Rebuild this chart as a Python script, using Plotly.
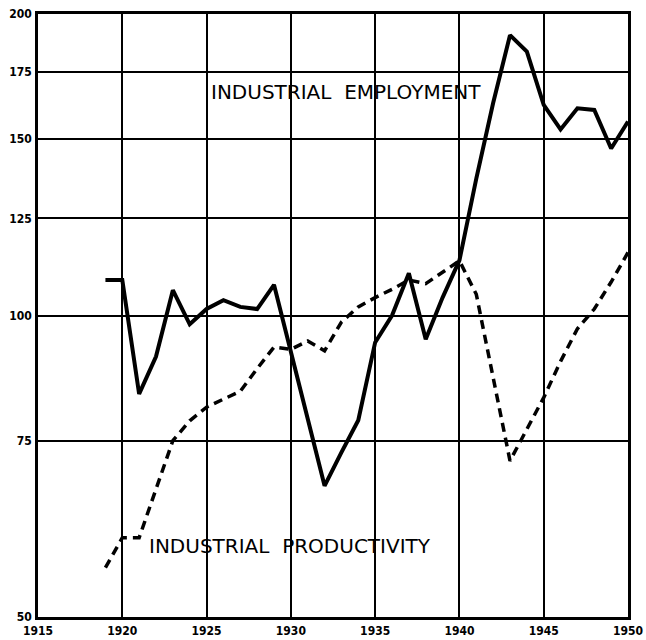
import math
import plotly.graph_objects as go

years = list(range(1919, 1951))

employment = [108.5, 108.5, 83.5, 91, 106, 98, 101.5, 103.6, 102, 101.5,
              107.3, 92, 79, 67.6, 73, 78.6, 94, 100, 110.2, 94.7,
              104.2, 113.5, 137, 163, 190.5, 183.4, 162.3, 153.4, 161, 160.4,
              146.8, 156.2]

productivity = [56, 60, 60, 67, 75, 78.5, 81, 82.5, 84, 88.5,
                93, 92.5, 94.3, 92.2, 98.5, 102, 104.2, 106.2, 108.5, 107.6,
                110.5, 113.4, 105, 87, 71.6, 77, 82.8, 90, 97, 101.5,
                108, 115.6]

x_ticks = [1915, 1920, 1925, 1930, 1935, 1940, 1945, 1950]
x_labels = ["1915", "1920", "1925", "1930", "1935", "1940", "1945", "1950"]
y_ticks = [50, 75, 100, 125, 150, 175, 200]
y_labels = ["50", "75", "100", "125", "150", "175", "200"]

label_emp = "INDUSTRIAL  EMPLOYMENT"
label_prod = "INDUSTRIAL  PRODUCTIVITY"

fig = go.Figure()
fig.add_trace(go.Scatter(x=years, y=employment, mode="lines",
                         line=dict(color="black", width=4), showlegend=False))
fig.add_trace(go.Scatter(x=years, y=productivity, mode="lines",
                         line=dict(color="black", width=3.5, dash="9px,6px"),
                         showlegend=False))

# annotation y on a log axis is given in log10 units
fig.add_annotation(x=1933.3, y=math.log10(167.3), text=label_emp, showarrow=False,
                   font=dict(family="DejaVu Sans", size=20, color="black"))
fig.add_annotation(x=1929.95, y=math.log10(58.9), text=label_prod, showarrow=False,
                   font=dict(family="DejaVu Sans", size=20, color="black"))

tickfont = dict(family="DejaVu Sans Condensed", size=12, color="black", weight="bold")

fig.update_xaxes(range=[1915, 1950], tickvals=x_ticks, ticktext=x_labels,
                 showgrid=True, gridcolor="black", gridwidth=2,
                 showline=True, linecolor="black", linewidth=2.5, mirror=True,
                 ticks="", zeroline=False, tickfont=tickfont, ticklabelstandoff=1,
                 automargin=False)
fig.update_yaxes(type="log", range=[1.69897, 2.30103], tickvals=y_ticks,
                 ticktext=y_labels, showgrid=True, gridcolor="black", gridwidth=2,
                 showline=True, linecolor="black", linewidth=2.5, mirror=True,
                 ticks="", zeroline=False, tickfont=tickfont, ticklabelstandoff=1,
                 automargin=False)

fig.update_layout(width=646, height=640,
                  margin=dict(l=38, r=18, t=14, b=23),
                  plot_bgcolor="white", paper_bgcolor="white")

fig.write_html("out.html", config={"displayModeBar": False},
               post_script="document.body.style.margin='0';document.body.style.overflow='hidden';")
